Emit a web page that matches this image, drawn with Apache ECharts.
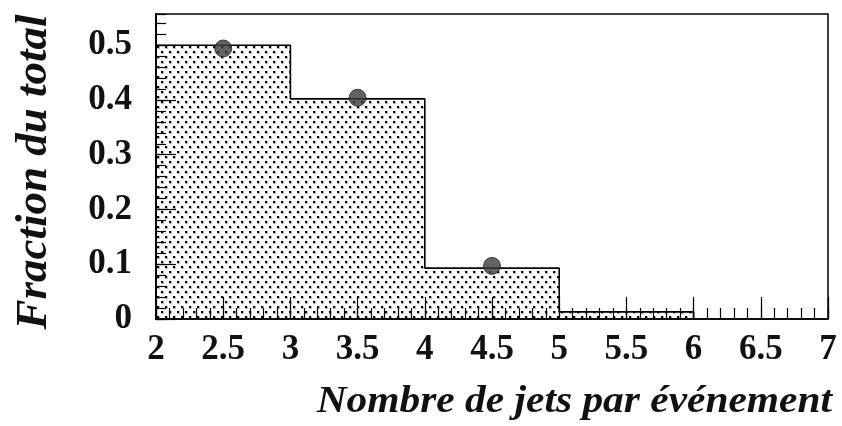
<!DOCTYPE html>
<html>
<head>
<meta charset="utf-8">
<script src="https://cdn.jsdelivr.net/npm/echarts@6/dist/echarts.min.js"></script>
<style>
  html, body { margin: 0; padding: 0; background: #fff; }
  #chart { width: 842px; height: 426px; }
</style>
</head>
<body>
<div id="chart"></div>
<script>
// Histogram bins: lower edges plus the final upper edge, and the fraction per bin
const binEdges = [2, 3, 4, 5, 6];
const binFraction = [0.5, 0.402, 0.093, 0.013];

// Measured points drawn on top of the histogram
const pointX = [2.5, 3.5, 4.5];
const pointY = [0.494, 0.404, 0.097];

const xTitle = 'Nombre de jets par événement';
const yTitle = 'Fraction du total';

// Step outline: each bin holds its value until the next edge, then drops to 0 at the end
const stepData = binFraction.map((v, i) => [binEdges[i], v]);
stepData.push([binEdges[binEdges.length - 1], 0]);

const pointData = pointX.map((x, i) => [x, pointY[i]]);

// Stippled fill used under the histogram
function dotPattern() {
  const c = document.createElement('canvas');
  c.width = 8; c.height = 10;
  const g = c.getContext('2d');
  g.fillStyle = '#fff';
  g.fillRect(0, 0, 8, 10);
  g.fillStyle = '#bbb';
  g.fillRect(1, 1, 3, 3);
  g.fillRect(5, 6, 3, 3);
  g.fillStyle = '#000';
  g.fillRect(1, 1, 2, 2);
  g.fillRect(5, 6, 2, 2);
  return c;
}

const serif = '"Liberation Serif", "DejaVu Serif", serif';
const yMax = 0.557;

const chart = echarts.init(document.getElementById('chart'), null, { renderer: 'canvas' });

const grid = { left: 156, right: 14, top: 14, bottom: 107, show: true, borderColor: '#000', borderWidth: 1.5, backgroundColor: 'transparent', z: 4 };

const tickLabel = { fontFamily: serif, fontWeight: 'bold', fontSize: 35, color: '#111' };

chart.setOption({
  animation: false,
  backgroundColor: '#fff',
  grid: grid,
  xAxis: [
    {
      type: 'value', min: 2, max: 7, interval: 0.5, z: 5,
      axisLine: { lineStyle: { color: '#000', width: 1.5 } },
      axisTick: { inside: true, length: 22, lineStyle: { color: '#000', width: 1.2 } },
      axisLabel: Object.assign({ margin: 13 }, tickLabel),
      splitLine: { show: false }
    },
    {
      type: 'value', min: 2, max: 7, interval: 0.1, position: 'bottom', z: 5,
      axisLine: { show: false },
      axisTick: { inside: true, length: 11, lineStyle: { color: '#000', width: 1.2 } },
      axisLabel: { show: false },
      splitLine: { show: false }
    }
  ],
  yAxis: [
    {
      type: 'value', min: 0, max: yMax, interval: 0.1, z: 5,
      axisLine: { show: true, lineStyle: { color: '#000', width: 2 } },
      axisTick: { inside: true, length: 20, lineStyle: { color: '#000', width: 1.2 } },
      axisLabel: Object.assign({
        margin: 24,
        showMaxLabel: false,
        formatter: v => (v === 0 ? '0' : String(Math.round(v * 10) / 10))
      }, tickLabel),
      splitLine: { show: false }
    },
    {
      type: 'value', min: 0, max: yMax, interval: 0.02, position: 'left', z: 5,
      axisLine: { show: false },
      axisTick: { inside: true, length: 10, lineStyle: { color: '#000', width: 1.2 } },
      axisLabel: { show: false },
      splitLine: { show: false }
    }
  ],
  series: [
    {
      type: 'line',
      step: 'end',
      data: stepData,
      symbol: 'none',
      lineStyle: { color: '#000', width: 1.6 },
      areaStyle: { color: { image: dotPattern(), repeat: 'repeat' }, opacity: 1 },
      z: 2
    },
    {
      type: 'scatter',
      data: pointData,
      symbol: 'circle',
      symbolSize: 17,
      itemStyle: { color: '#3c3c3c', borderColor: '#222', borderWidth: 1 },
      z: 6
    }
  ],
  graphic: [
    {
      type: 'text',
      x: 832, y: 402,
      scaleX: 1.09,
      style: {
        text: xTitle, fill: '#111',
        font: 'italic bold 38px ' + serif,
        align: 'right', verticalAlign: 'middle'
      }
    },
    {
      type: 'text',
      x: 34, y: 172,
      rotation: Math.PI / 2,
      style: {
        text: yTitle, fill: '#111',
        font: 'italic bold 45px ' + serif,
        align: 'center', verticalAlign: 'middle'
      }
    }
  ]
});
</script>
</body>
</html>
